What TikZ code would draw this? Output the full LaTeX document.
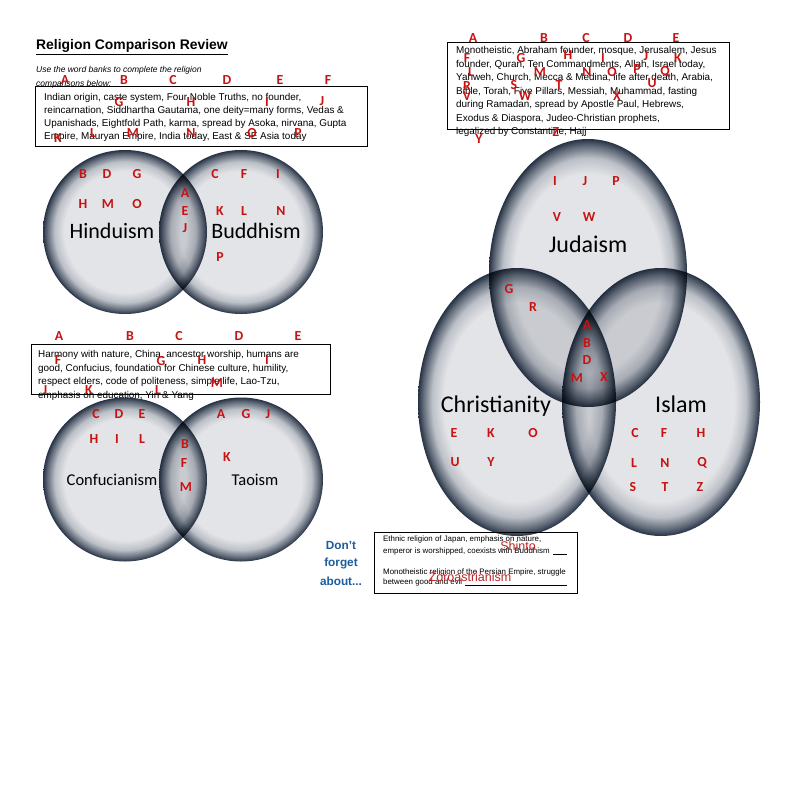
\documentclass[tikz,border=0pt]{standalone}
\usepackage{fontspec}
\setmainfont{Liberation Sans}
\newfontfamily\calib{Carlito}
\usetikzlibrary{shapes.geometric}
\definecolor{vfill}{RGB}{227,228,231}
\definecolor{vmid}{RGB}{140,148,160}
\definecolor{vedge}{RGB}{38,50,68}
\definecolor{lred}{RGB}{200,18,18}
\definecolor{dblue}{RGB}{28,92,158}
\definecolor{sred}{RGB}{186,36,36}
\pgfdeclareradialshading{vring}{\pgfpoint{0bp}{0bp}}{color(0bp)=(vfill); color(18.5bp)=(vfill); color(21.5bp)=(vfill!55!vmid); color(23.8bp)=(vmid!55!vedge); color(25bp)=(vedge); color(50bp)=(vedge)}
\begin{document}
\begin{tikzpicture}[x=1pt,y=-1pt,
 rl/.style={font=\calib\bfseries\fontsize{13.8}{14}\selectfont, text=lred, inner sep=0},
 bank/.style={font=\fontsize{9.9}{12}\selectfont, anchor=base west, inner sep=0},
 small/.style={font=\fontsize{7.9}{9}\selectfont, anchor=base west, inner sep=0},
 wbox/.style={draw=black, line width=0.9pt},
 venn/.style={circle, minimum size=164pt, inner sep=0, shade, shading=vring, blend mode=multiply},
 oval/.style={ellipse, minimum width=198pt, minimum height=268pt, inner sep=0, shade, shading=vring, blend mode=multiply},
 rname/.style={anchor=base, inner sep=0, font=\calib\fontsize{#1}{#1}\selectfont},
 forget/.style={font=\bfseries\fontsize{11.8}{12}\selectfont, text=dblue, inner sep=0},
 answer/.style={font=\fontsize{12.5}{13}\selectfont, text=sred, inner sep=0}]
\useasboundingbox (0,0) rectangle (792,792);

% ---------- title and instructions
\node[anchor=base west, inner sep=0, font=\bfseries\fontsize{13.9}{14}\selectfont] (title) at (36,50) {\underline{Religion Comparison Review}};
\node[anchor=base west, inner sep=0, font=\itshape\fontsize{8.5}{10}\selectfont] (ins1) at (36,73) {Use the word banks to complete the religion};
\node[anchor=base west, inner sep=0, font=\itshape\fontsize{8.5}{10}\selectfont] (ins2) at (36,86) {comparisons below:};

% ---------- word bank 1 (Hinduism / Buddhism)
\draw[wbox] (35,86) rectangle (367,146);
\node[bank] (b1l1) at (44,100.5) {Indian origin, caste system, Four Noble Truths, no founder,};
\node[bank] (b1l2) at (44,113.3) {reincarnation, Siddhartha  Gautama, one deity=many forms, Vedas \&};
\node[bank] (b1l3) at (44,126.1) {Upanishads, Eightfold Path, karma, spread  by Asoka, nirvana, Gupta};
\node[bank] (b1l4) at (44,139) {Empire, Mauryan Empire, India today, East \& SE Asia today};
\foreach \n/\x/\y in {A/65/80, B/124/80, C/173/80, D/227/80, E/280/80, F/328/80,
  G/119/102, H/191/102, I/267/102, J/322/101,
  K/58/138, L/93/133, M/133/133, N/191/133, O/252/133, P/298/133}
  \node[rl] (wa\n) at (\x,\y) {\n};

% ---------- word bank 2 (Judaism / Christianity / Islam)
\draw[wbox] (447,42) rectangle (729,129);
\node[bank] (b2l1) at (456,53.5) {Monotheistic, Abraham founder, mosque, Jerusalem, Jesus};
\node[bank] (b2l2) at (456,67) {founder,  Quran, Ten Commandments, Allah, Israel today,};
\node[bank] (b2l3) at (456,80.5) {Yahweh, Church,  Mecca \& Medina, life after death, Arabia,};
\node[bank] (b2l4) at (456,94) {Bible, Torah, Five Pillars,  Messiah, Muhammad, fasting};
\node[bank] (b2l5) at (456,107.5) {during Ramadan, spread by Apostle Paul,  Hebrews,};
\node[bank] (b2l6) at (456,121) {Exodus \& Diaspora, Judeo-Christian prophets,};
\node[bank] (b2l7) at (456,134.5) {legalized by Constantine, Hajj};
\foreach \n/\x/\y in {A/473/38, B/544/38, C/586/38, D/628/38, E/676/38,
  F/467/58, G/521/58, H/568/55, I/603/58, J/646/56, K/678/58,
  L/471/72, M/540/72, N/587/72, O/612/72, P/637/69, Q/665/72,
  R/467/86, S/514/85, T/559/85, U/652/83,
  V/467/96, W/525/96, X/617/96, Y/479/139, Z/556/132}
  \node[rl] (wb\n) at (\x,\y) {\n};

% ---------- word bank 3 (Confucianism / Taoism)
\draw[wbox] (31,344) rectangle (330,394);
\node[bank] (b3l1) at (38,357.5) {Harmony with nature, China, ancestor worship, humans are};
\node[bank] (b3l2) at (38,371) {good, Confucius,  foundation for Chinese culture, humility,};
\node[bank] (b3l3) at (38,384.5) {respect elders, code of politeness,  simple life, Lao-Tzu,};
\node[bank] (b3l4) at (38,398) {emphasis on education, Yin \& Yang};
\foreach \n/\x/\y in {A/59/336, B/130/336, C/179/336, D/239/336, E/298/336,
  F/58/360, G/161/361, H/202/360, I/267/360,
  J/45/390, K/89/390, L/158/390, M/217/383}
  \node[rl] (wc\n) at (\x,\y) {\n};

% ---------- Hinduism / Buddhism diagram
\node[venn] (hin) at (125,232) {};
\node[venn] (bud) at (241,232) {};
\node[rname=22] (hinl) at (112,238.5) {Hinduism};
\node[rname=22] (budl) at (256,238.5) {Buddhism};
\foreach \n/\x/\y in {B/83/174, D/107/174, G/137/174, H/83/204, M/108/204, O/137/204}
  \node[rl] (h\n) at (\x,\y) {\n};
\foreach \n/\x/\y in {A/185/193, E/185/211, J/185/228}
  \node[rl] (hb\n) at (\x,\y) {\n};
\foreach \n/\x/\y in {C/215/174, F/244/174, I/278/174, K/220/211, L/244/211, N/281/211, P/220/257}
  \node[rl] (bu\n) at (\x,\y) {\n};

% ---------- Confucianism / Taoism diagram
\node[venn] (con) at (125,479.5) {};
\node[venn] (tao) at (241,479.5) {};
\node[rname=16.5] (conl) at (112,485.3) {Confucianism};
\node[rname=16.5] (taol) at (255,485.3) {Taoism};
\foreach \n/\x/\y in {C/96/414, D/119/414, E/142/414, H/94/439, I/117/439, L/142/439}
  \node[rl] (c\n) at (\x,\y) {\n};
\foreach \n/\x/\y in {B/185/444, F/184/463, M/186/487}
  \node[rl] (ct\n) at (\x,\y) {\n};
\foreach \n/\x/\y in {A/221/414, G/246/414, J/268/414, K/227/457}
  \node[rl] (t\n) at (\x,\y) {\n};

% ---------- Judaism / Christianity / Islam diagram
\node[oval] (jud) at (588,273) {};
\node[oval] (chr) at (517,402) {};
\node[oval] (isl) at (661,402) {};
\node[rname=24] (judl) at (588,252.7) {Judaism};
\node[rname=24] (chrl) at (496,412.7) {Christianity};
\node[rname=24] (isll) at (681,412.7) {Islam};
\foreach \n/\x/\y in {I/555/181, J/585/181, P/616/181, V/557/217, W/589/217}
  \node[rl] (j\n) at (\x,\y) {\n};
\foreach \n/\x/\y in {G/509/289, R/533/307}
  \node[rl] (jc\n) at (\x,\y) {\n};
\foreach \n/\x/\y in {A/587/325, B/587/343, D/587/360, M/577/378, X/604/377}
  \node[rl] (jci\n) at (\x,\y) {\n};
\foreach \n/\x/\y in {E/454/433, K/491/433, O/533/433, U/455/462, Y/491/462}
  \node[rl] (ch\n) at (\x,\y) {\n};
\foreach \n/\x/\y in {C/635/433, F/664/433, H/701/433, L/634/463, N/665/463, Q/702/463, S/633/487, T/665/487, Z/700/487}
  \node[rl] (is\n) at (\x,\y) {\n};

% ---------- Don't forget about...
\node[forget] (df1) at (341,545) {Don't};
\node[forget] (df2) at (341,563) {forget};
\node[forget] (df3) at (341,581) {about...};
\draw[wbox, line width=0.8pt] (374,532) rectangle (577,593);
\node[small] (s1) at (383,541.8) {Ethnic religion of Japan, emphasis on nature,};
\node[small] (s2) at (383,553.8) {emperor is worshipped, coexists with Buddhism};
\coordinate (u1a) at (553,554.5);
\coordinate (u1b) at (567,554.5);
\draw[line width=1.3pt] (u1a) -- (u1b);
\node[small] (s3) at (383,574.8) {Monotheistic religion of the Persian Empire, struggle};
\node[small] (s4) at (383,584.8) {between good and evil};
\coordinate (u2a) at (465,585.5);
\coordinate (u2b) at (567,585.5);
\draw[line width=1.5pt] (u2a) -- (u2b);
\node[answer] (shinto) at (518,546) {Shinto};
\node[answer] (zoro) at (470,577) {Zoroastrianism};
\end{tikzpicture}
\end{document}
